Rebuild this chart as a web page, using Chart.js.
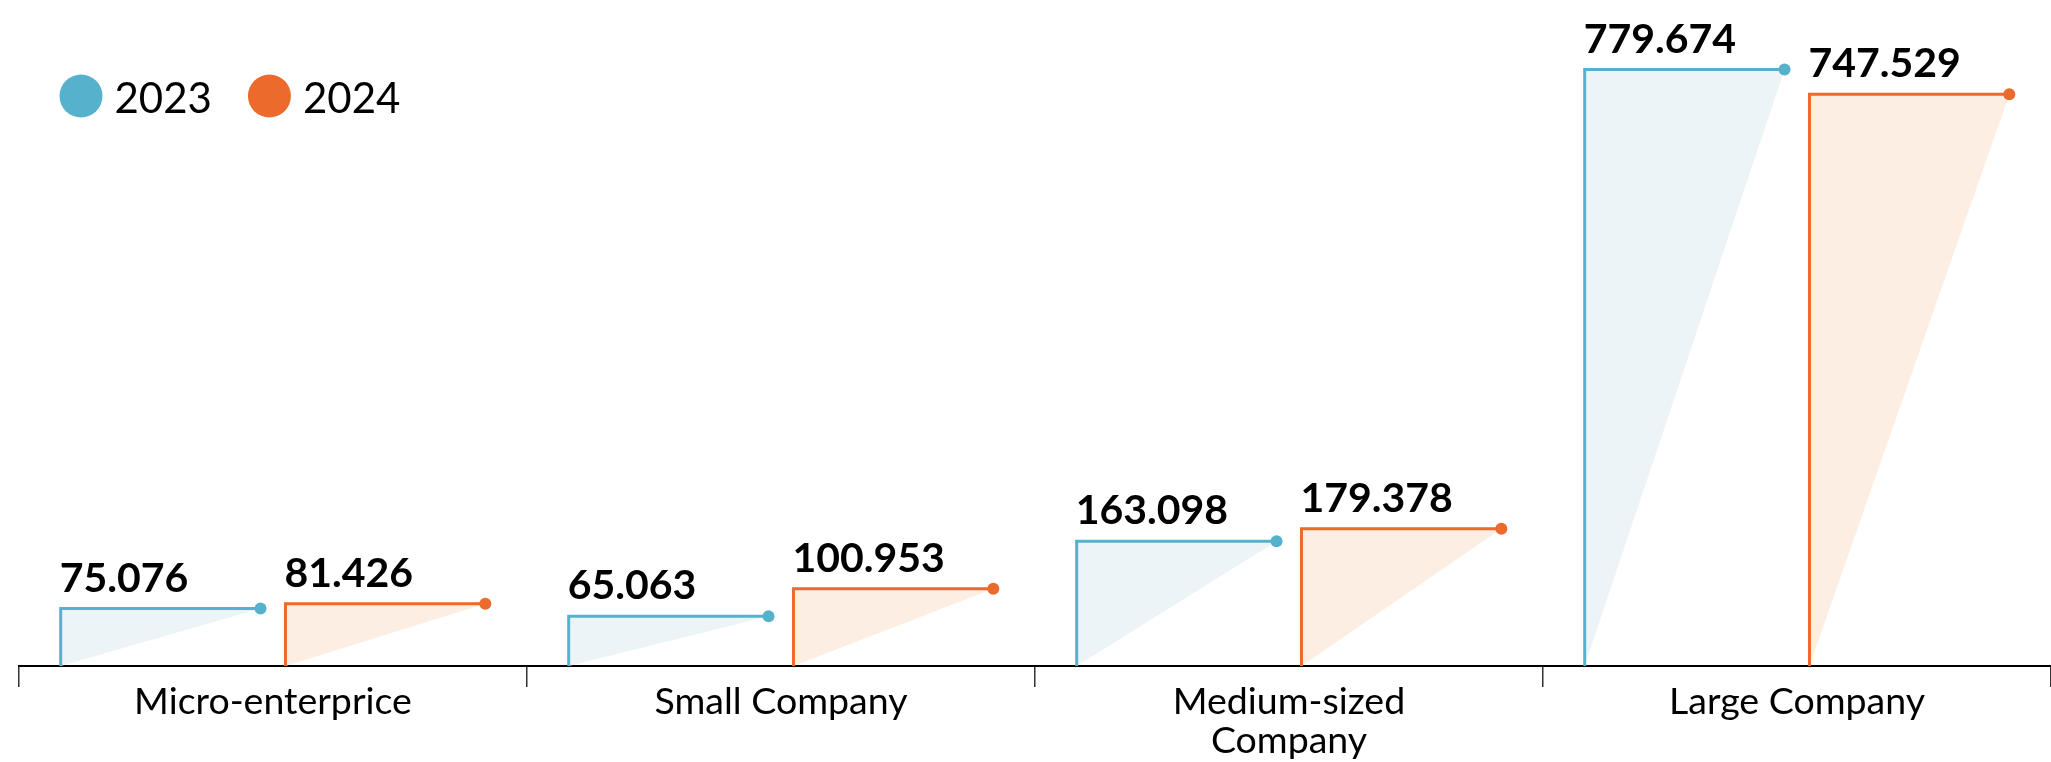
<!DOCTYPE html>
<html>
<head>
<meta charset="utf-8">
<script src="https://cdn.jsdelivr.net/npm/chart.js@4"></script>
<style>
  html, body { margin: 0; padding: 0; background: #fff; }
  #wrap { width: 2051px; height: 762px; }
</style>
</head>
<body>
<div id="wrap"><canvas id="chart"></canvas></div>
<script>
// ---------- Data ----------
const categories = ['Micro-enterprice', 'Small Company', ['Medium-sized', 'Company'], 'Large Company'];
const seriesNames = ['2023', '2024'];
const values2023 = [75076, 65063, 163098, 779674];
const values2024 = [81426, 100953, 179378, 747529];

const lineColors = ['#55b1cc', '#ec6a2b'];
const fillColors = ['#ecf4f7', '#fdeee3'];
const FONT = 'Lato, "Open Sans", sans-serif';

// 75076 -> "75.076"
const fmt = v => String(v).replace(/\B(?=(\d{3})+(?!\d))/g, '.');

// ---------- Step shapes: left edge + top edge, light wedge, dot, value ----------
const stepShapes = {
    id: 'stepShapes',
    afterDatasetsDraw(chart) {
        const ctx = chart.ctx;
        chart.data.datasets.forEach((ds, i) => {
            const meta = chart.getDatasetMeta(i);
            meta.data.forEach((bar, j) => {
                const { x, y, base, width } = bar.getProps(['x', 'y', 'base', 'width'], true);
                const left = x - width / 2;
                const right = x + width / 2;
                ctx.save();

                ctx.beginPath();
                ctx.moveTo(left, base);
                ctx.lineTo(left, y);
                ctx.lineTo(right, y);
                ctx.closePath();
                ctx.fillStyle = fillColors[i];
                ctx.fill();

                ctx.beginPath();
                ctx.moveTo(left, base);
                ctx.lineTo(left, y);
                ctx.lineTo(right, y);
                ctx.strokeStyle = lineColors[i];
                ctx.lineWidth = 3;
                ctx.lineJoin = 'miter';
                ctx.stroke();

                ctx.beginPath();
                ctx.arc(right, y, 6, 0, Math.PI * 2);
                ctx.fillStyle = lineColors[i];
                ctx.fill();

                ctx.font = 'bold 41px ' + FONT;
                ctx.fillStyle = '#000';
                ctx.textAlign = 'left';
                ctx.textBaseline = 'alphabetic';
                ctx.fillText(fmt(ds.data[j]), left - 1, y - 17);
                ctx.restore();
            });
        });
    }
};

// ---------- Legend: dot + year, top left ----------
const legendDots = {
    id: 'legendDots',
    afterDraw(chart) {
        const ctx = chart.ctx;
        let x = 59.5;
        const cy = 96;
        const r = 21.5;
        ctx.save();
        ctx.font = '42px ' + FONT;
        ctx.textBaseline = 'alphabetic';
        ctx.textAlign = 'left';
        chart.data.datasets.forEach((ds, i) => {
            ctx.beginPath();
            ctx.arc(x + r, cy, r, 0, Math.PI * 2);
            ctx.fillStyle = lineColors[i];
            ctx.fill();
            ctx.fillStyle = '#000';
            const tx = x + 2 * r + 12;
            ctx.fillText(ds.label, tx, 112.5);
            x = tx + ctx.measureText(ds.label).width + 36;
        });
        ctx.restore();
    }
};

// ---------- Chart ----------
Chart.defaults.font.family = FONT;
const ctx = document.getElementById('chart').getContext('2d');

new Chart(ctx, {
    type: 'bar',
    data: {
        labels: categories,
        datasets: [
            { label: seriesNames[0], data: values2023, backgroundColor: 'rgba(0,0,0,0)', borderWidth: 0 },
            { label: seriesNames[1], data: values2024, backgroundColor: 'rgba(0,0,0,0)', borderWidth: 0 }
        ]
    },
    options: {
        responsive: true,
        maintainAspectRatio: false,
        animation: false,
        layout: { padding: { left: 19, top: 54, right: 0, bottom: 0 } },
        datasets: { bar: { categoryPercentage: 0.885, barPercentage: 0.889 } },
        plugins: {
            legend: { display: false },
            tooltip: { enabled: false }
        },
        scales: {
            x: {
                grid: {
                    offset: true,
                    drawOnChartArea: false,
                    drawTicks: true,
                    tickLength: 21,
                    color: '#333',
                    lineWidth: 1.5
                },
                border: { display: true, color: '#000', width: 2 },
                ticks: {
                    color: '#000',
                    font: { family: FONT, size: 37.5, lineHeight: 1.05 },
                    padding: -5
                },
                afterFit(scale) { scale.height = 96; }
            },
            y: { display: false, min: 0, max: 800000 }
        }
    },
    plugins: [stepShapes, legendDots]
});
</script>
</body>
</html>
